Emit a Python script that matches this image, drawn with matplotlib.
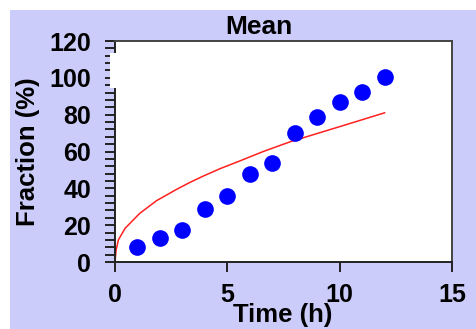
import matplotlib
matplotlib.use("Agg")
import matplotlib.pyplot as plt
from matplotlib.patches import Rectangle
from matplotlib.ticker import MultipleLocator

plt.rcParams['font.family'] = ['Liberation Sans', 'DejaVu Sans']
plt.rcParams['font.weight'] = 'bold'

# Data
time_pts = [1, 2, 3, 4, 5, 6, 7, 8, 9, 10, 11, 12]
mean_pts = [8, 12.9, 17.4, 28.6, 35.8, 47.8, 53.6, 69.9, 78.9, 87, 92.5, 100.3]

curve_t = [0, 0.05, 0.15, 0.45, 1.1, 1.85, 2.75, 3.3, 3.9, 4.7, 5.5, 6.6, 7.8, 10.0, 12.0]
curve_y = [0, 6.5, 12, 18.3, 26.4, 33.3, 39.5, 43.0, 46.5, 50.8, 54.6, 60.0, 65.3, 73.5, 81]

x_ticks = [0, 5, 10, 15]
y_ticks = [0, 20, 40, 60, 80, 100, 120]

W, H = 477, 329
fig = plt.figure(figsize=(W / 100, H / 100), dpi=100)
fig.patch.set_facecolor('white')
# lavender background panel
fig.patches.append(Rectangle((10 / W, 0), 1 - 10 / W, 1 - 10 / H,
                             transform=fig.transFigure, facecolor='#ccccfa',
                             edgecolor='none', zorder=-10))

ax = fig.add_axes([115 / W, 1 - 262 / H, (452 - 115) / W, (262 - 41) / H])
ax.set_facecolor('white')

ax.plot(curve_t, curve_y, color='#ff2020', lw=1.1, zorder=2)
ax.plot(time_pts, mean_pts, 'o', color='#0000ff', markersize=12, markeredgewidth=0, zorder=3)

ax.set_xlim(0, 15)
ax.set_ylim(0, 120)
ax.set_xticks(x_ticks)
ax.set_yticks(y_ticks)
ax.yaxis.set_minor_locator(MultipleLocator(4))
ax.tick_params(axis='both', which='both', direction='out', length=7.3, width=1.4,
               color='#222222', labelsize=18)
ax.tick_params(axis='y', pad=10)
ax.tick_params(axis='x', pad=8)
for lab in ax.get_xticklabels() + ax.get_yticklabels():
    lab.set_fontweight('bold')

for side in ['left', 'bottom']:
    ax.spines[side].set_color('#222222')
    ax.spines[side].set_linewidth(1.4)
for side in ['top', 'right']:
    ax.spines[side].set_color('#444444')
    ax.spines[side].set_linewidth(1.4)

fig.text(259 / W, 1 - 27 / H, 'Mean', ha='center', va='center',
         fontsize=19, fontweight='bold')
fig.text(282.5 / W, 1 - 315 / H, 'Time (h)', ha='center', va='center',
         fontsize=18.5, fontweight='bold')
fig.text(28 / W, 1 - 152 / H, 'Fraction (%)', ha='center', va='center',
         rotation=90, fontsize=18.5, fontweight='bold')

# white patch covering the legend area
fig.patches.append(Rectangle((110 / W, 1 - 88 / H), (225 - 110) / W, (88 - 53) / H,
                             transform=fig.transFigure, facecolor='white',
                             edgecolor='none', zorder=10))

fig.savefig('out.png', dpi=100, facecolor=fig.get_facecolor())
